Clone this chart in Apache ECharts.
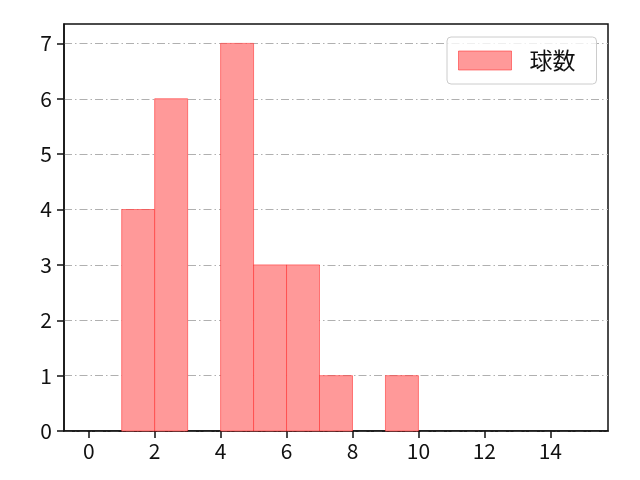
<!DOCTYPE html>
<html>
<head>
<meta charset="utf-8">
<script src="https://cdn.jsdelivr.net/npm/echarts@6/dist/echarts.min.js"></script>
<style>html,body{margin:0;padding:0;background:#fff}#c{width:640px;height:480px}</style>
</head>
<body>
<div id="c"></div>
<script>
const binStarts = [1, 2, 3, 4, 5, 6, 7, 8, 9];
const binEnds   = [2, 3, 4, 5, 6, 7, 8, 9, 10];
const counts    = [4, 6, 0, 7, 3, 3, 1, 0, 1];
const seriesName = '球数';
const xTicks = [0, 2, 4, 6, 8, 10, 12, 14];
const yTicks = [0, 1, 2, 3, 4, 5, 6, 7];

const FONT = '"Noto Sans CJK JP", "Noto Sans", sans-serif';
const FILL = '#ff9999';
const EDGE = 'rgba(255,40,40,0.55)';

const data = binStarts.map((s, i) => [s, binEnds[i], counts[i]]);

const chart = echarts.init(document.getElementById('c'), null, {renderer: 'canvas'});
chart.setOption({
  animation: false,
  backgroundColor: '#fff',
  grid: {left: 64, right: 32, top: 24, bottom: 49, show: true, borderColor: '#111', borderWidth: 1.5, backgroundColor: 'transparent'},
  legend: {
    show: true,
    left: 447, top: 37,
    padding: [12, 21, 12, 11],
    itemWidth: 53, itemHeight: 19, itemGap: 10,
    borderColor: '#cccccc', borderWidth: 1, borderRadius: 4,
    backgroundColor: 'rgba(255,255,255,0.8)',
    textStyle: {fontFamily: FONT, fontSize: 23, color: '#111', padding: [0, 0, 0, 13]},
    data: [{name: seriesName, icon: 'rect', itemStyle: {color: FILL, borderColor: EDGE, borderWidth: 1}}]
  },
  xAxis: {
    type: 'value', min: -0.75, max: 15.75, interval: 2,
    axisLine: {show: true, onZero: false, lineStyle: {color: '#111', width: 1.5}},
    axisTick: {show: true, length: 7, lineStyle: {color: '#111', width: 1.5}, customValues: xTicks},
    axisLabel: {fontFamily: FONT, fontSize: 21, color: '#111', margin: 10, customValues: xTicks, formatter: v => String(v)},
    splitLine: {show: false}
  },
  yAxis: {
    type: 'value', min: 0, max: 7.35, interval: 1,
    axisLine: {show: true, onZero: false, lineStyle: {color: '#111', width: 1.5}},
    axisTick: {show: true, length: 7, lineStyle: {color: '#111', width: 1.5}, customValues: yTicks},
    axisLabel: {fontFamily: FONT, fontSize: 21, color: '#111', margin: 12, customValues: yTicks, formatter: v => String(v)},
    splitLine: {show: true, lineStyle: {color: '#b0b0b0', width: 1, type: [8, 3, 1.5, 3]}}
  },
  series: [{
    name: seriesName,
    type: 'custom',
    itemStyle: {color: FILL, borderColor: EDGE},
    renderItem: function (params, api) {
      const x0 = api.value(0), x1 = api.value(1), c = api.value(2);
      if (!c) return null;
      const p0 = api.coord([x0, c]);
      const p1 = api.coord([x1, 0]);
      return {
        type: 'rect',
        shape: {x: p0[0], y: p0[1], width: p1[0] - p0[0], height: p1[1] - p0[1]},
        style: {fill: FILL, stroke: EDGE, lineWidth: 1}
      };
    },
    encode: {x: [0, 1], y: 2},
    data: data,
    z: 3
  }]
});
</script>
</body>
</html>
